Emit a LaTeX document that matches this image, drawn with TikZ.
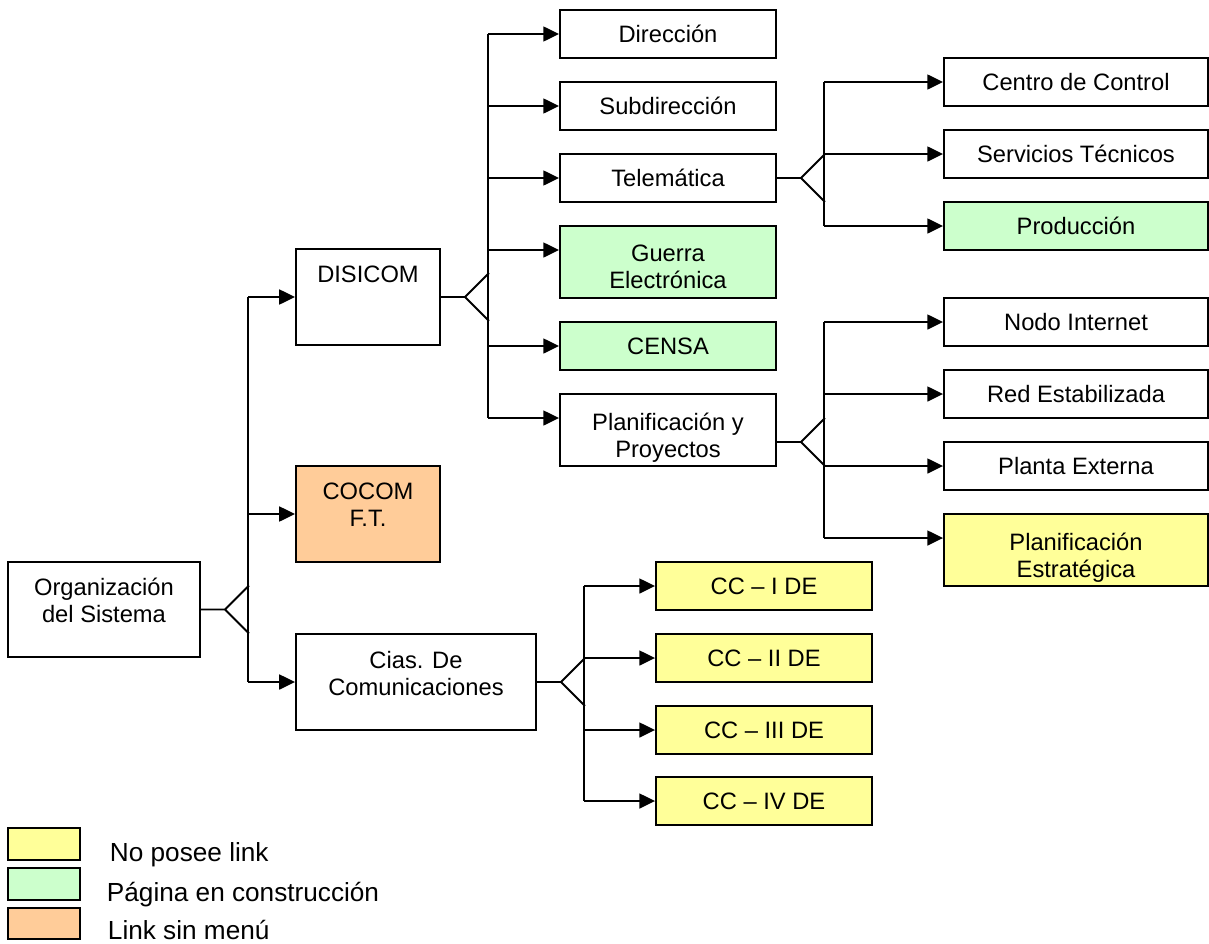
\documentclass[tikz,border=0pt]{standalone}
\usepackage{fontspec}
\setmainfont{Liberation Sans}
\usetikzlibrary{arrows.meta,positioning}
\definecolor{noLink}{HTML}{FFFF99}
\definecolor{enObra}{HTML}{CCFFCC}
\definecolor{sinMenu}{HTML}{FFCC99}

\begin{document}
\begin{tikzpicture}[x=0.02cm,y=-0.02cm,line width=1.1pt,
  font=\fontsize{13.5}{15.5}\selectfont,
  box/.style={draw,align=center,inner sep=0pt,minimum height=0.96cm},
  txt/.style={align=center,inner sep=0pt},
  keytxt/.style={anchor=base west,inner sep=0pt,font=\fontsize{14.9}{17}\selectfont},
  arr/.style={-{Triangle[length=9pt,width=8.5pt]}}]
\useasboundingbox (0,0) rectangle (1209,943);

% organizacion y primer nivel
\draw (104,609.5) node[box,minimum width=3.84cm,minimum height=1.9cm](org) {};
\node[txt,below=0.32cm of org.north](orgtxt) {Organización\\del Sistema};
\draw (368,297) node[box,minimum width=2.88cm,minimum height=1.92cm](disicom) {};
\node[txt,below=0.34cm of disicom.north](disicomtxt) {DISICOM};
\draw (368,514) node[box,fill=sinMenu,minimum width=2.88cm,minimum height=1.92cm](cocom) {};
\node[txt,below=0.34cm of cocom.north](cocomtxt) {COCOM\\F.T.};
\draw (416,682) node[box,minimum width=4.8cm,minimum height=1.92cm](cias) {};
\node[txt,below=0.34cm of cias.north](ciastxt) {Cias. De\\Comunicaciones};

% DISICOM
\draw (668,34) node[box,minimum width=4.32cm](direccion) {Dirección};
\draw (668,106) node[box,minimum width=4.32cm](subdir) {Subdirección};
\draw (668,178) node[box,minimum width=4.32cm](telematica) {Telemática};
\draw (668,262) node[box,fill=enObra,minimum width=4.32cm,minimum height=1.44cm](guerra) {};
\node[txt,below=0.38cm of guerra.north](guerratxt) {Guerra\\Electrónica};
\draw (668,346) node[box,fill=enObra,minimum width=4.32cm](censa) {CENSA};
\draw (668,430) node[box,minimum width=4.32cm,minimum height=1.44cm](planif) {};
\node[txt,below=0.38cm of planif.north](planiftxt) {Planificación y\\Proyectos};

% Telematica
\draw (1076,82) node[box,minimum width=5.28cm](centro) {Centro de Control};
\draw (1076,154) node[box,minimum width=5.28cm](servicios) {Servicios Técnicos};
\draw (1076,226) node[box,fill=enObra,minimum width=5.28cm](produccion) {Producción};

% Planificacion
\draw (1076,322) node[box,minimum width=5.28cm](nodo) {Nodo Internet};
\draw (1076,394) node[box,minimum width=5.28cm](red) {Red Estabilizada};
\draw (1076,466) node[box,minimum width=5.28cm](planta) {Planta Externa};
\draw (1076,550) node[box,fill=noLink,minimum width=5.28cm,minimum height=1.44cm](estrat) {};
\node[txt,below=0.38cm of estrat.north](estrattxt) {Planificación\\Estratégica};

% compañias
\draw (764,586) node[box,fill=noLink,minimum width=4.32cm](ccuno) {CC – I DE};
\draw (764,658) node[box,fill=noLink,minimum width=4.32cm](ccdos) {CC – II DE};
\draw (764,730) node[box,fill=noLink,minimum width=4.32cm](cctres) {CC – III DE};
\draw (764,801) node[box,fill=noLink,minimum width=4.32cm](cccuatro) {CC – IV DE};

% puntos de entrada y salida
\coordinate (guerrain) at ([yshift=0.24cm]guerra.west);
\coordinate (planifin) at ([yshift=0.24cm]planif.west);
\coordinate (planifout) at ([yshift=-0.24cm]planif.east);
\coordinate (estratin) at ([yshift=0.24cm]estrat.west);

% horquillas
\draw (org.east) -- ++(24,0) coordinate (orgtip) -- ++(24,-24) (orgtip) -- ++(24,24);
\coordinate (orgbus) at (248,0);
\draw (orgbus |- disicom.west) -- (orgbus |- cias.west);
\draw[arr] (orgbus |- disicom.west) -- (disicom.west);
\draw[arr] (orgbus |- cocom.west) -- (cocom.west);
\draw[arr] (orgbus |- cias.west) -- (cias.west);

\draw (disicom.east) -- ++(24,0) coordinate (distip) -- ++(24,-24) (distip) -- ++(24,24);
\coordinate (disbus) at (488,0);
\draw (disbus |- direccion.west) -- (disbus |- planifin);
\draw[arr] (disbus |- direccion.west) -- (direccion.west);
\draw[arr] (disbus |- subdir.west) -- (subdir.west);
\draw[arr] (disbus |- telematica.west) -- (telematica.west);
\draw[arr] (disbus |- guerrain) -- (guerrain);
\draw[arr] (disbus |- censa.west) -- (censa.west);
\draw[arr] (disbus |- planifin) -- (planifin);

\draw (telematica.east) -- ++(24,0) coordinate (teltip) -- ++(24,-24) (teltip) -- ++(24,24);
\coordinate (telbus) at (824,0);
\draw (telbus |- centro.west) -- (telbus |- produccion.west);
\draw[arr] (telbus |- centro.west) -- (centro.west);
\draw[arr] (telbus |- servicios.west) -- (servicios.west);
\draw[arr] (telbus |- produccion.west) -- (produccion.west);

\draw (planifout) -- ++(24,0) coordinate (plantip) -- ++(24,-24) (plantip) -- ++(24,24);
\coordinate (planbus) at (824,0);
\draw (planbus |- nodo.west) -- (planbus |- estratin);
\draw[arr] (planbus |- nodo.west) -- (nodo.west);
\draw[arr] (planbus |- red.west) -- (red.west);
\draw[arr] (planbus |- planta.west) -- (planta.west);
\draw[arr] (planbus |- estratin) -- (estratin);

\draw (cias.east) -- ++(24,0) coordinate (ciastip) -- ++(24,-24) (ciastip) -- ++(24,24);
\coordinate (ciasbus) at (584,0);
\draw (ciasbus |- ccuno.west) -- (ciasbus |- cccuatro.west);
\draw[arr] (ciasbus |- ccuno.west) -- (ccuno.west);
\draw[arr] (ciasbus |- ccdos.west) -- (ccdos.west);
\draw[arr] (ciasbus |- cctres.west) -- (cctres.west);
\draw[arr] (ciasbus |- cccuatro.west) -- (cccuatro.west);

% leyenda
\draw (44,844) node[draw,fill=noLink,minimum width=1.44cm,minimum height=0.64cm](keyamarillo) {};
\draw (44,884) node[draw,fill=enObra,minimum width=1.44cm,minimum height=0.64cm](keyverde) {};
\draw (44,923.5) node[draw,fill=sinMenu,minimum width=1.44cm,minimum height=0.62cm](keynaranja) {};
\node[keytxt](keyamarillotxt) at (109,861) {No posee link};
\node[keytxt](keyverdetxt) at (106,901) {Página en construcción};
\node[keytxt](keynaranjatxt) at (107,939) {Link sin menú};
\end{tikzpicture}
\end{document}
